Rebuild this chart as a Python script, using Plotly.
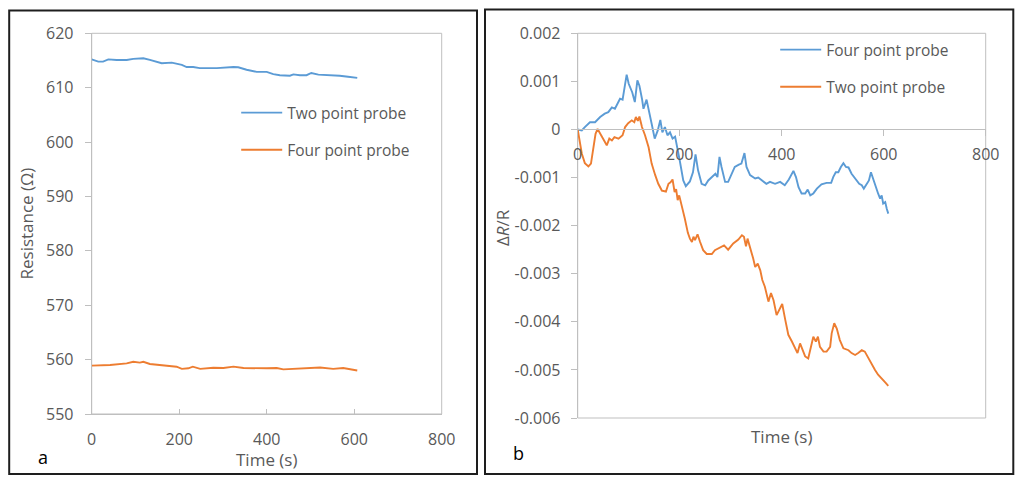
import plotly.graph_objects as go

# ---------------- data ----------------
# panel a : resistance (ohm) vs time (s)
t_two_a = [0, 15, 26, 38, 57, 80, 95, 118, 133, 160, 183, 206, 217, 232, 247, 286, 324, 335,
           354, 377, 400, 415, 430, 453, 461, 476, 491, 502, 518, 552, 567, 586, 607]
r_two_a = [615.2, 614.8, 614.8, 615.2, 615.1, 615.1, 615.3, 615.4, 615.1, 614.5, 614.6, 614.2,
           613.8, 613.8, 613.6, 613.6, 613.8, 613.75, 613.3, 612.9, 612.9, 612.5, 612.3, 612.2,
           612.45, 612.3, 612.3, 612.7, 612.4, 612.3, 612.2, 612.0, 611.8]

t_four_a = [0, 42, 80, 95, 110, 118, 133, 156, 171, 194, 206, 221, 231, 248, 278, 301, 324,
            347, 400, 423, 438, 476, 522, 552, 575, 607]
r_four_a = [558.9, 559.0, 559.3, 559.6, 559.45, 559.6, 559.2, 559.0, 559.0, 558.7, 558.3, 558.4,
            558.7, 558.3, 558.5, 558.45, 558.7, 558.45, 558.4, 558.45, 558.2, 558.3, 558.55,
            558.3, 558.45, 558.0]

# panel b : relative change dR/R vs time (s)
t_four_b = [0, 8, 14, 24, 34, 44, 53, 60, 67, 73, 83, 88, 96, 100, 107, 112, 117, 121, 126, 129,
            135, 140, 145, 151, 157, 162, 166, 171, 176, 181, 186, 191, 194, 200, 207, 212, 220,
            226, 231, 236, 243, 250, 256, 263, 270, 274, 278, 282, 289, 295, 302, 308, 316, 321,
            327, 331, 338, 348, 354, 364, 370, 377, 387, 397, 406, 414, 423, 428, 433, 439, 446,
            451, 456, 462, 469, 478, 488, 497, 501, 506, 511, 516, 521, 526, 531, 537, 544, 552,
            557, 561, 567, 571, 575, 580, 584, 589, 593, 596, 599, 603, 606, 609]
dr_four_b = [0.0, -0.00002, 0.00005, 0.00015, 0.00015, 0.00026, 0.00033, 0.00036, 0.00046,
             0.00043, 0.00064, 0.00062, 0.00114, 0.00095, 0.00077, 0.00057, 0.00102, 0.00091,
             0.00064, 0.00043, 0.00062, 0.00033, 0.00012, -0.00019, -0.00002, 0.00020, -0.00006,
             0.00005, -0.00012, -0.00006, -0.00019, -0.00015, -0.00030, -0.00064, -0.00106,
             -0.00118, -0.00108, -0.00089, -0.00052, -0.00085, -0.00113, -0.00116, -0.00106,
             -0.00098, -0.00092, -0.00099, -0.00057, -0.00078, -0.00109, -0.00109, -0.00092,
             -0.00078, -0.00073, -0.00071, -0.00049, -0.00078, -0.00095, -0.00102, -0.00100,
             -0.00109, -0.00113, -0.00109, -0.00113, -0.00109, -0.00116, -0.00104, -0.00086,
             -0.00099, -0.00120, -0.00133, -0.00133, -0.00125, -0.00137, -0.00133, -0.00123,
             -0.00114, -0.00111, -0.00111, -0.00099, -0.00089, -0.00089, -0.00078, -0.00070,
             -0.00078, -0.00079, -0.00092, -0.00102, -0.00113, -0.00116, -0.00123, -0.00113,
             -0.00106, -0.00089, -0.00106, -0.00116, -0.00133, -0.00144, -0.00137, -0.00154,
             -0.00151, -0.00165, -0.00175]

t_two_b = [0, 3, 8, 14, 21, 26, 31, 35, 39, 44, 50, 57, 62, 67, 72, 80, 88, 93, 99, 106, 111,
           114, 118, 121, 126, 132, 139, 145, 152, 158, 165, 173, 178, 182, 186, 190, 193, 196,
           199, 204, 210, 216, 220, 224, 227, 230, 235, 240, 246, 253, 263, 269, 279, 287, 295,
           305, 315, 322, 326, 330, 333, 338, 344, 348, 353, 358, 362, 367, 374, 379, 384, 390,
           395, 401, 407, 413, 420, 426, 431, 436, 441, 446, 452, 458, 462, 467, 471, 475, 482,
           488, 495, 498, 503, 508, 514, 521, 531, 537, 544, 550, 557, 563, 570, 576, 583, 589,
           596, 603, 609]
dr_two_b = [0.0, -0.00023, -0.00050, -0.00070, -0.00077, -0.00071, -0.00037, -0.00009, 0.00001,
            -0.00009, -0.00019, -0.00033, -0.00019, -0.00023, -0.00016, -0.00019, -0.00012,
            0.00005, 0.00013, 0.00019, 0.00015, 0.00026, 0.00018, 0.00027, 0.00005, -0.00012,
            -0.00037, -0.00071, -0.00095, -0.00113, -0.00127, -0.00129, -0.00113, -0.00110,
            -0.00104, -0.00130, -0.00124, -0.00147, -0.00137, -0.00158, -0.00185, -0.00215,
            -0.00227, -0.00234, -0.00223, -0.00230, -0.00218, -0.00234, -0.00251, -0.00259,
            -0.00259, -0.00251, -0.00245, -0.00241, -0.00250, -0.00237, -0.00229, -0.00220,
            -0.00223, -0.00243, -0.00227, -0.00244, -0.00268, -0.00286, -0.00279, -0.00293,
            -0.00313, -0.00327, -0.00358, -0.00340, -0.00355, -0.00386, -0.00376, -0.00363,
            -0.00396, -0.00427, -0.00441, -0.00455, -0.00465, -0.00445, -0.00459, -0.00472,
            -0.00476, -0.00452, -0.00431, -0.00441, -0.00431, -0.00452, -0.00462, -0.00462,
            -0.00452, -0.00424, -0.00403, -0.00414, -0.00438, -0.00455, -0.00459, -0.00465,
            -0.00469, -0.00465, -0.00459, -0.00462, -0.00476, -0.00486, -0.00500, -0.00510,
            -0.00519, -0.00526, -0.00533]

# axis ticks
x_ticks = [0, 200, 400, 600, 800]
x_ticktext = ["0", "200", "400", "600", "800"]
ya_ticks = [550, 560, 570, 580, 590, 600, 610, 620]
ya_ticktext = ["550", "560", "570", "580", "590", "600", "610", "620"]
yb_ticks = [-0.006, -0.005, -0.004, -0.003, -0.002, -0.001, 0, 0.001, 0.002]
yb_ticktext = ["-0.006", "-0.005", "-0.004", "-0.003", "-0.002", "-0.001", "0", "0.001", "0.002"]

# ---------------- styling ----------------
# the page keeps the browser's default 8 px body margin, so the figure is
# 1008 x 471 and sits at (8, 8) of the 1024 x 487 window
OFF = 8
W, H = 1024 - 2 * OFF, 487 - 2 * OFF
BLUE = "#5B9BD5"
ORANGE = "#ED7D31"
GREY_TXT = "#595959"
AX = "#BFBFBF"
FONT = "Open Sans"
LW = 1.9


def fx(p):  # window pixel -> paper fraction
    return (p - OFF) / W


def fy(p):
    return 1 - (p - OFF) / H


fig = go.Figure()

# panel a
fig.add_trace(go.Scatter(x=t_two_a, y=r_two_a, mode="lines", name="Two point probe",
                         line=dict(color=BLUE, width=LW), xaxis="x", yaxis="y",
                         legend="legend", legendgroup="a1"))
fig.add_trace(go.Scatter(x=t_four_a, y=r_four_a, mode="lines", name="Four point probe",
                         line=dict(color=ORANGE, width=LW), xaxis="x", yaxis="y",
                         legend="legend", legendgroup="a2"))
# panel b
fig.add_trace(go.Scatter(x=t_four_b, y=dr_four_b, mode="lines", name="Four point probe",
                         line=dict(color=BLUE, width=LW), xaxis="x2", yaxis="y2",
                         legend="legend2", legendgroup="b1"))
fig.add_trace(go.Scatter(x=t_two_b, y=dr_two_b, mode="lines", name="Two point probe",
                         line=dict(color=ORANGE, width=LW), xaxis="x2", yaxis="y2",
                         legend="legend2", legendgroup="b2"))

tickfont = dict(family=FONT, size=16, color=GREY_TXT)

yb_dom = [fy(418), fy(33.3)]
yb_range = [-0.006, 0.002]
x2_pos = yb_dom[0] + (0 - yb_range[0]) / (yb_range[1] - yb_range[0]) * (yb_dom[1] - yb_dom[0])

legfont = dict(family=FONT, size=15.5, color=GREY_TXT)

fig.update_layout(
    width=W, height=H, autosize=False,
    margin=dict(l=0, r=0, t=0, b=0, pad=0, autoexpand=False),
    paper_bgcolor="white", plot_bgcolor="white",
    font=dict(family=FONT, color=GREY_TXT),
    xaxis=dict(domain=[fx(91.7), fx(441.7)], anchor="y", range=[0, 800],
               tickvals=x_ticks, ticktext=x_ticktext, tickfont=tickfont, automargin=False,
               showgrid=False, zeroline=False, showline=True, linecolor=AX, linewidth=1,
               ticks="inside", ticklen=5, tickcolor=AX, ticklabelstandoff=11),
    yaxis=dict(domain=[fy(414), fy(33.3)], anchor="x", range=[550, 620],
               tickvals=ya_ticks, ticktext=ya_ticktext, tickfont=tickfont, automargin=False,
               showgrid=False, zeroline=False, showline=True, linecolor=AX, linewidth=1,
               ticks="outside", ticklen=6, tickcolor=AX, ticklabelstandoff=8),
    xaxis2=dict(domain=[fx(577.7), fx(985.7)], anchor="free", position=x2_pos, range=[0, 800],
                tickvals=x_ticks, ticktext=x_ticktext, tickfont=tickfont, automargin=False,
                showgrid=False, zeroline=False, showline=True, linecolor=AX, linewidth=1,
                ticks="outside", ticklen=6, tickcolor=AX, ticklabelstandoff=4),
    yaxis2=dict(domain=yb_dom, anchor="x2", range=yb_range,
                tickvals=yb_ticks, ticktext=yb_ticktext, tickfont=tickfont, automargin=False,
                showgrid=False, zeroline=False, showline=True, linecolor=AX, linewidth=1,
                ticks="outside", ticklen=6, tickcolor=AX, ticklabelstandoff=7),
    legend=dict(x=fx(236.2), y=fy(96), xanchor="left", yanchor="top", itemwidth=41,
                bgcolor="rgba(0,0,0,0)", borderwidth=0, tracegroupgap=14, font=legfont),
    legend2=dict(x=fx(775.2), y=fy(33), xanchor="left", yanchor="top", itemwidth=41,
                 bgcolor="rgba(0,0,0,0)", borderwidth=0, tracegroupgap=14, font=legfont),
    showlegend=True,
)

# plot-area boxes (Excel style) and panel frames
fig.add_shape(type="rect", xref="x domain", yref="y domain", x0=0, x1=1, y0=0, y1=1,
              line=dict(color=AX, width=1), layer="below")
fig.add_shape(type="rect", xref="x2 domain", yref="y2 domain", x0=0, x1=1, y0=0, y1=1,
              line=dict(color=AX, width=1), layer="below")
fig.add_shape(type="rect", xref="paper", yref="paper", x0=fx(9.2), x1=fx(477), y0=fy(474),
              y1=fy(10.5), line=dict(color="#1E1E1E", width=2))
fig.add_shape(type="rect", xref="paper", yref="paper", x0=fx(485), x1=fx(1013.3), y0=fy(474),
              y1=fy(9.5), line=dict(color="#1E1E1E", width=2))

title_font = dict(family=FONT, size=17, color=GREY_TXT)
ann = [
    dict(text="Time (s)", x=fx(266.7), y=fy(459), xref="paper", yref="paper",
         showarrow=False, font=title_font, xanchor="center", yanchor="middle"),
    dict(text="Resistance (Ω)", x=fx(26), y=fy(223.5), xref="paper", yref="paper",
         showarrow=False, font=title_font, textangle=-90, xanchor="center", yanchor="middle"),
    dict(text="Time (s)", x=fx(781.7), y=fy(436), xref="paper", yref="paper",
         showarrow=False, font=title_font, xanchor="center", yanchor="middle"),
    dict(text="Δ<i>R</i>/R", x=fx(502), y=fy(228), xref="paper", yref="paper",
         showarrow=False, font=title_font, textangle=-90, xanchor="center", yanchor="middle"),
    dict(text="a", x=fx(43), y=fy(457), xref="paper", yref="paper", showarrow=False,
         font=dict(family=FONT, size=18, color="black"), xanchor="center", yanchor="middle"),
    dict(text="b", x=fx(518), y=fy(453), xref="paper", yref="paper", showarrow=False,
         font=dict(family=FONT, size=18, color="black"), xanchor="center", yanchor="middle"),
]
fig.update_layout(annotations=ann)

fig.write_html("out.html", include_plotlyjs=True,
               config={"responsive": False, "displayModeBar": False})
